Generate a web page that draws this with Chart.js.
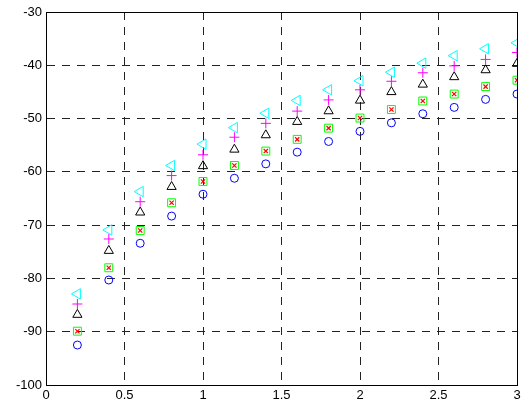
<!DOCTYPE html>
<html><head><meta charset="utf-8">
<script src="https://cdn.jsdelivr.net/npm/chart.js@4/dist/chart.umd.min.js"></script>
<style>html,body{margin:0;padding:0;background:#fff}#wrap{width:532px;height:403px;position:relative}</style>
</head><body><div id="wrap"><canvas id="c"></canvas></div>
<script>
const xValues = [0.2,0.4,0.6,0.8,1.0,1.2,1.4,1.6,1.8,2.0,2.2,2.4,2.6,2.8,3.0];
const cyanSeries    = [-82.9,-70.9,-63.7,-58.8,-54.8,-51.7,-49.0,-46.6,-44.6,-42.9,-41.3,-39.6,-38.2,-36.9,-35.8];
const magentaSeries = [-84.8,-72.6,-65.6,-60.7,-56.8,-53.5,-50.9,-48.6,-46.5,-44.6,-43.0,-41.4,-40.1,-38.9,-37.6];
const blackSeries   = [-86.8,-74.8,-67.6,-62.8,-58.9,-55.8,-53.1,-50.6,-48.6,-46.6,-45.0,-43.6,-42.2,-40.9,-39.7];
const greenSeries   = [-89.9,-78.0,-71.0,-65.8,-61.8,-58.8,-56.1,-53.9,-51.8,-49.9,-48.3,-46.7,-45.4,-44.0,-42.8];
const redSeries     = [-89.9,-78.0,-71.0,-65.8,-61.8,-58.8,-56.1,-53.9,-51.8,-49.9,-48.3,-46.7,-45.4,-44.0,-42.8];
const blueSeries    = [-92.5,-80.3,-73.4,-68.3,-64.2,-61.2,-58.5,-56.3,-54.3,-52.4,-50.8,-49.1,-47.9,-46.4,-45.4];
const xTicks = [0,0.5,1,1.5,2,2.5,3];
const yTicks = [-100,-90,-80,-70,-60,-50,-40,-30];

const pts = arr => arr.map((v,i)=>({x:xValues[i], y:v}));
const FONT = {family:'"Liberation Sans", Arial, sans-serif', size:13};

const frame = {
  id:'frame',
  beforeDatasetsDraw(chart){
    const {ctx, chartArea:a} = chart;
    ctx.save();
    ctx.strokeStyle='#000'; ctx.lineWidth=1; ctx.setLineDash([]);
    const l=Math.round(a.left)+0.5, t=Math.round(a.top)+0.5, r=Math.round(a.right)+0.5, b=Math.round(a.bottom)+0.5;
    ctx.strokeRect(l,t,r-l,b-t);
    ctx.restore();
  }
};

new Chart(document.getElementById('c'), {
  type:'scatter',
  data:{datasets:[
    {data:pts(blueSeries), pointStyle:'circle', radius:4, borderColor:'#0000ff', backgroundColor:'rgba(0,0,0,0)', borderWidth:1},
    {data:pts(greenSeries), pointStyle:'rect', radius:5.6, borderColor:'#00ff00', backgroundColor:'rgba(0,0,0,0)', borderWidth:1},
    {data:pts(redSeries), pointStyle:'crossRot', radius:3, borderColor:'#ff0000', backgroundColor:'rgba(0,0,0,0)', borderWidth:1.2},
    {data:pts(blackSeries), pointStyle:'triangle', radius:5.3, borderColor:'#000000', backgroundColor:'rgba(0,0,0,0)', borderWidth:1},
    {data:pts(magentaSeries), pointStyle:'cross', radius:5, borderColor:'#ff00ff', backgroundColor:'rgba(0,0,0,0)', borderWidth:1},
    {data:pts(cyanSeries), pointStyle:'triangle', rotation:-90, radius:6, borderColor:'#00ffff', backgroundColor:'rgba(0,0,0,0)', borderWidth:1}
  ]},
  options:{
    responsive:true, maintainAspectRatio:false, animation:false,
    layout:{padding:{left:0, right:15, top:12, bottom:0}},
    plugins:{legend:{display:false}, tooltip:{enabled:false}},
    scales:{
      x:{type:'linear', min:0, max:3,
        afterBuildTicks:s=>{s.ticks=xTicks.map(v=>({value:v}));},
        afterFit:s=>{s.height=18;},
        ticks:{color:'#000', font:FONT, padding:3, maxRotation:0, callback:v=>String(v)},
        grid:{color:'#222', lineWidth:1, drawTicks:false},
        border:{display:true, color:'#000', dash:[8,7]}
      },
      y:{type:'linear', min:-100, max:-30,
        afterBuildTicks:s=>{s.ticks=yTicks.map(v=>({value:v}));},
        afterFit:s=>{s.width=46;},
        ticks:{color:'#000', font:FONT, padding:4, callback:v=>String(v)},
        grid:{color:'#222', lineWidth:1, drawTicks:false},
        border:{display:true, color:'#000', dash:[8,7]}
      }
    }
  },
  plugins:[frame]
});
</script></body></html>
